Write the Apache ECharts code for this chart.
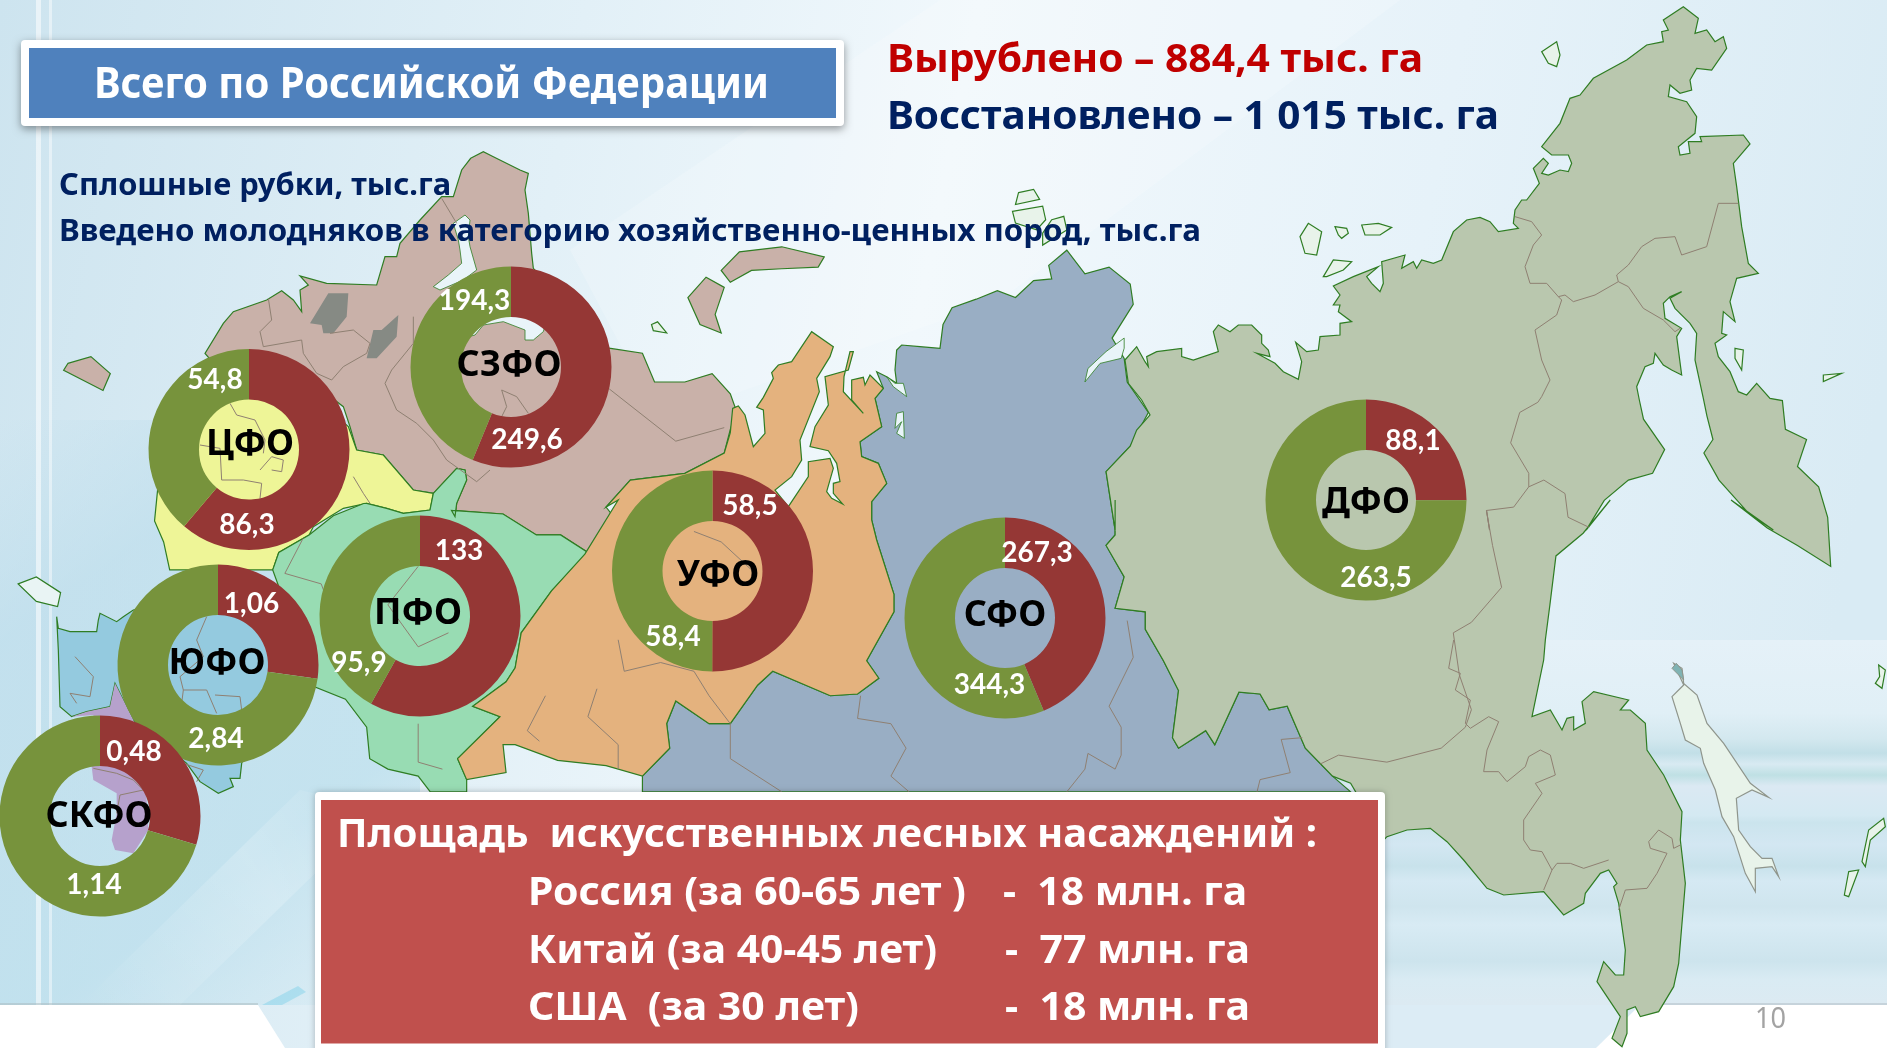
<!DOCTYPE html>
<html>
<head>
<meta charset="utf-8">
<title>Всего по Российской Федерации</title>
<script src="https://cdn.jsdelivr.net/npm/echarts@6/dist/echarts.min.js"></script>
<style>
  html, body { margin: 0; padding: 0; overflow: hidden; background: #fff; }
  #chart { width: 1887px; height: 1048px; }
</style>
</head>
<body>
<div id="chart"></div>
<script>
// данные с картинки
const regions = ['ЦФО', 'СЗФО', 'ПФО', 'ЮФО', 'СКФО', 'УФО', 'СФО', 'ДФО'];
const felled = [86.3, 249.6, 133, 1.06, 0.48, 58.5, 267.3, 88.1];
const restored = [54.8, 194.3, 95.9, 2.84, 1.14, 58.4, 344.3, 263.5];

// где стоят кольца, подписи значений и названия округов
const centers = [[249, 449.5], [511, 367], [420, 616], [218, 665], [100, 816], [712.5, 571], [1005, 618], [1366, 500]];
const felledLabelPos = [[247, 525], [527, 440], [459, 551], [251.5, 604], [134, 752], [750, 506], [1037, 553], [1413, 441]];
const restoredLabelPos = [[215, 380], [474.5, 301], [359, 663], [216, 739], [94, 885], [673, 637], [989.5, 685], [1376, 578]];
const namePos = [[250, 445], [509, 366], [418, 614], [217, 663.5], [99, 816.5], [718, 576], [1005, 615.5], [1366, 503]];

const RED = '#953735';
const GREEN = '#77933c';
const FONT = '"Noto Sans", sans-serif';

const tiles = {
  a: [0, 0, 1.65, 2.958],
  b: [0, 500, 1.65, 2.861],
  c: [940, 0, 1.656, 2.958],
  d: [940, 500, 1.656, 2.861],
  e: [720, 320, 3, 3],
  f: [1387, 640, 3, 3],
  g: [0, 600, 3, 3],
  h: [1480, 0, 3, 3],
  i: [1120, 180, 3, 3],
  j: [200, 140, 3, 3]
};
function t(name, flat) {
  const [ox, oy, sx, sy] = tiles[name];
  const out = [];
  for (let k = 0; k < flat.length; k += 2) out.push([ox + flat[k] / sx, oy + flat[k + 1] / sy]);
  return out;
}

const siberia = [
  ...t('e', [470, 155, 500, 170, 530, 190, 525, 150, 530, 90, 545, 75, 600, 80, 660, 85]),
  ...t('c', [5, 960, 20, 910, 60, 885, 95, 860, 125, 880, 155, 830, 185, 825, 180, 785, 210, 740, 240, 810, 280, 790, 315, 840, 320, 900, 285, 1000, 305, 1060, 310, 1130, 345, 1220, 315, 1320, 275, 1395, 290, 1568]),
  ...t('d', [290, 0, 290, 100, 275, 130, 305, 220, 290, 310, 340, 320, 340, 370, 370, 460, 395, 545, 385, 680, 395, 710, 440, 660, 455, 700, 495, 550, 530, 555, 545, 600, 575, 590, 605, 710, 650, 790, 680, 835]),
  ...t('b', [1568, 835, 1060, 835, 1060, 790, 1105, 710, 1100, 640, 1115, 575, 1170, 640, 1205, 640, 1250, 530, 1275, 490, 1370, 560, 1415, 555, 1450, 510, 1430, 460, 1475, 320, 1475, 270]),
  ...t('e', [470, 660, 455, 600, 455, 545, 500, 490, 475, 430, 425, 410, 420, 365, 485, 320, 465, 235, 490, 205])
];

const ural = [
  ...t('e', [38, 265, 55, 258, 75, 285, 100, 380, 135, 340, 130, 270, 110, 262, 130, 232, 160, 175, 155, 158, 175, 135, 215, 125, 275, 35, 340, 80, 330, 110, 290, 175, 298, 215, 240, 360, 245, 420, 215, 470, 165, 510, 205, 560, 265, 470, 265, 425, 330, 415, 340, 445, 320, 515, 335, 535, 368, 552, 340, 520, 340, 490, 360, 485, 350, 430, 325, 392, 270, 380, 285, 320, 325, 255, 315, 170, 385, 150, 400, 95, 390, 95, 372, 170, 370, 215, 430, 280, 395, 240, 395, 180, 430, 172, 435, 195, 450, 165, 490, 205, 465, 235, 485, 320, 420, 365, 425, 410, 475, 430, 500, 490, 455, 545, 455, 600, 470, 660]),
  ...t('b', [1475, 270, 1475, 320, 1430, 460, 1450, 510, 1415, 555, 1370, 560, 1275, 490, 1250, 530, 1205, 640, 1170, 640, 1115, 575, 1100, 640, 1105, 710, 1060, 790, 1000, 760, 920, 745, 850, 700, 830, 700, 835, 780, 770, 800, 755, 740, 825, 620, 780, 590, 835, 520, 850, 480, 860, 380, 910, 260, 965, 155, 1020, 0]),
  ...t('a', [1000, 1500, 1040, 1420, 1130, 1400, 1195, 1340, 1205, 1280])
];

const volga = [
  ...t('j', [700, 1060, 770, 985, 795, 990, 800, 1020, 770, 1090, 765, 1130]),
  ...t('b', [745, 30, 830, 40, 885, 100, 925, 100, 970, 150, 910, 260, 860, 380, 850, 480, 835, 520, 780, 590, 825, 620, 755, 740, 770, 800, 770, 835, 710, 835, 690, 790, 640, 770, 610, 740, 605, 650, 570, 570, 520, 535, 450, 200, 460, 150, 510, 100, 550, 45, 600, 10]),
  ...t('j', [500, 1090, 560, 1105, 610, 1120, 690, 1110])
];

const northWest = [
  ...t('j', [812, 55, 850, 35, 880, 50, 960, 90, 985, 100, 975, 150, 985, 220, 995, 340, 1000, 385]),
  ...t('a', [1005, 1030, 1060, 1045, 1080, 1130, 1130, 1130, 1175, 1105, 1205, 1165, 1215, 1215, 1205, 1270, 1195, 1340, 1130, 1400, 1040, 1420, 1000, 1500, 1030, 1568]),
  ...t('b', [985, 140, 970, 150, 925, 100, 885, 100, 830, 40, 750, 30]),
  ...t('j', [765, 1130, 770, 1090, 800, 1020, 795, 990, 770, 985, 700, 1060, 640, 1050, 550, 945, 470, 930, 450, 860, 430, 800, 300, 700, 50, 680, 15, 640, 70, 550, 100, 515, 200, 480, 245, 452, 280, 480, 305, 515, 300, 450, 325, 435, 300, 408, 380, 430, 530, 435, 555, 350, 590, 350, 600, 310, 660, 240, 725, 170, 760, 170, 785, 90])
];

const centerFo = [
  ...t('j', [330, 760, 445, 860, 470, 930, 550, 945, 640, 1050, 700, 1060, 690, 1110, 610, 1120, 560, 1105, 500, 1090, 430, 1105, 340, 1160]),
  ...t('b', [510, 100, 460, 150, 450, 200, 280, 200, 270, 120, 255, 60]),
  ...t('a', [260, 1450, 340, 1100])
];

const south = t('g', [170, 50, 175, 85, 210, 95, 290, 95, 295, 60, 300, 40, 350, 65, 370, 50, 400, 30, 520, 0, 800, 0, 810, 200, 800, 300, 725, 490, 720, 535, 690, 535, 700, 560, 655, 580, 600, 545, 560, 490, 400, 360, 345, 250, 330, 320, 260, 335, 215, 350, 180, 320, 175, 150]);
const crimea = t('b', [30, 240, 60, 220, 100, 265, 95, 305, 60, 290]);
const caucasus = t('g', [345, 250, 400, 360, 440, 600, 445, 690, 400, 760, 345, 750, 335, 720, 350, 640, 350, 580, 280, 540, 275, 500, 280, 345, 215, 350, 260, 335, 330, 320]);

const farEast = [
  ...t('i', [15, 540, 50, 500, 75, 545, 85, 560, 80, 530, 110, 515, 185, 505, 185, 530, 220, 540, 295, 515, 280, 455, 295, 435, 330, 455, 355, 435, 395, 435, 425, 465, 425, 490, 445, 510, 450, 530, 410, 520, 465, 550, 490, 575, 535, 598, 545, 545, 527, 487, 560, 515, 595, 510, 600, 470, 660, 465, 660, 430, 695, 425, 655, 395, 660, 375, 640, 375, 660, 345, 640, 318, 700, 290, 775, 260, 740, 290, 755, 310, 780, 335, 790, 310, 785, 245, 855, 225, 845, 265, 880, 245, 890, 265, 905, 240, 940, 250, 965, 240, 1000, 155, 1040, 120, 1080, 112, 1110, 125, 1135, 155]),
  ...t('h', [115, 685, 100, 670, 105, 630, 125, 600, 140, 600, 178, 550, 160, 505, 190, 475, 205, 490, 185, 520, 205, 525, 240, 510, 265, 515, 275, 490, 265, 465, 215, 465, 185, 440, 240, 370, 270, 295, 300, 285, 340, 235, 440, 180, 500, 135, 550, 125, 545, 95, 565, 90, 550, 60, 610, 20, 655, 55, 645, 100, 680, 90, 705, 125, 730, 110, 740, 145, 695, 210, 650, 205, 630, 240, 635, 270, 600, 280, 570, 255, 565, 290, 620, 305, 650, 350, 645, 400, 620, 420, 595, 440, 600, 465, 630, 460, 625, 425, 665, 425, 660, 410, 790, 405, 810, 432, 760, 490, 770, 560, 785, 680, 805, 790, 835, 820, 770, 835, 750, 905, 765, 965, 730, 935, 725, 1000, 740, 1005, 705, 1030, 715, 1070, 750, 1115, 775, 1175, 800, 1185, 830, 1150, 870, 1195]),
  ...t('c', [1395, 1185, 1400, 1270, 1435, 1300, 1420, 1380, 1455, 1440, 1470, 1530]),
  ...t('d', [1475, 190, 1420, 130, 1370, 80, 1310, 0]),
  ...t('c', [1380, 1568, 1340, 1520, 1290, 1420, 1265, 1340, 1280, 1300, 1270, 1230]),
  ...t('h', [670, 1195, 645, 1080, 650, 1000, 630, 970, 585, 925, 570, 895, 605, 875, 570, 890, 550, 910, 555, 955, 605, 985, 590, 1010, 605, 1125, 575, 1110, 550, 1095, 525, 1060, 520, 1090, 495, 1100, 470, 1160, 478, 1200]),
  ...t('c', [1165, 1240, 1200, 1330, 1180, 1400, 1140, 1420, 1100, 1480, 1070, 1568]),
  ...t('d', [1110, 0, 1065, 95, 1020, 160, 1010, 300]),
  ...t('f', [475, 0, 470, 60, 435, 230, 490, 210, 525, 270, 540, 235, 560, 230, 560, 270, 595, 250, 585, 185, 620, 155, 725, 180, 700, 210, 730, 210, 775, 250, 780, 330, 830, 405, 885, 515, 880, 600, 895, 730, 875, 970, 860, 1040, 815, 1115, 760, 1130, 745, 1100, 720, 1110, 720, 1180, 705, 1220, 675, 1195, 700, 1130, 630, 1025, 650, 965, 685, 1005, 710, 1005, 715, 930, 695, 790, 680, 740, 690, 730, 665, 690, 640, 700, 595, 760, 590, 790, 530, 825, 470, 755, 350, 765, 300, 745, 230, 660, 180, 605, 130, 565, 60, 570, 0, 590, -10, 600]),
  ...t('d', [680, 810, 650, 790, 605, 710, 575, 590, 545, 600, 530, 555, 495, 550, 455, 700, 440, 660, 395, 710, 385, 680, 395, 545, 370, 460, 340, 370, 340, 320, 290, 310, 305, 220, 275, 130, 290, 100, 290, 0]),
  ...t('c', [290, 1568, 275, 1395, 315, 1320]),
  ...t('i', [50, 750, 90, 705, 65, 660, 25, 610])
];

const lakes = [
  t('j', [385, 460, 445, 460, 440, 530, 400, 580, 370, 580, 365, 555, 330, 550]),
  t('j', [595, 525, 590, 590, 530, 655, 500, 655, 520, 570, 545, 570])
];
const whiteSeas = [
  t('j', [795, 225, 810, 240, 805, 290, 810, 320, 830, 390, 790, 420, 720, 450, 700, 440, 745, 405, 785, 370, 780, 330, 775, 300, 760, 250]),
  t('j', [780, 520, 930, 510, 1040, 540, 1030, 575, 1000, 600, 975, 600, 975, 570, 910, 545, 850, 555, 825, 585, 805, 590]),
  t('c', [305, 1000, 275, 1040, 245, 1090, 240, 1130, 265, 1075, 300, 1060, 305, 1030]),
  t('e', [500, 170, 525, 190, 550, 190, 560, 230, 520, 200]),
  t('e', [530, 280, 550, 275, 553, 355, 530, 340, 545, 305, 525, 325])
];
const brownIslands = [
  t('a', [1190, 800, 1220, 745, 1290, 730, 1360, 760, 1350, 790, 1290, 795, 1240, 800, 1205, 835]),
  t('a', [1165, 820, 1195, 850, 1180, 930, 1190, 985, 1155, 960, 1135, 880]),
  t('a', [112, 1075, 150, 1055, 182, 1105, 170, 1155, 105, 1095])
];
const paleIslands = [
  t('h', [185, 155, 230, 125, 240, 165, 230, 200, 205, 190]),
  t('h', [765, 1045, 790, 1050, 785, 1110, 765, 1075]),
  t('h', [1030, 1125, 1085, 1120, 1030, 1145]),
  t('i', [540, 170, 565, 130, 605, 155, 590, 225, 555, 220]),
  t('i', [645, 140, 680, 145, 685, 160, 665, 175, 655, 165]),
  t('i', [725, 135, 775, 130, 815, 142, 780, 165, 735, 165]),
  t('i', [610, 290, 640, 240, 695, 245, 670, 270, 620, 290]),
  t('c', [130, 570, 155, 560, 165, 590, 125, 605]),
  t('c', [120, 625, 170, 610, 175, 650, 160, 680, 125, 660]),
  t('c', [185, 650, 205, 640, 210, 680, 170, 725, 170, 690]),
  t('a', [1075, 960, 1085, 952, 1100, 985, 1078, 978]),
  t('f', [1475, 75, 1495, 90, 1485, 145, 1465, 130, 1478, 110]),
  t('f', [1490, 535, 1495, 560, 1450, 600, 1435, 680, 1425, 665, 1445, 570]),
  t('f', [1385, 695, 1415, 690, 1385, 770, 1372, 765])
];
const sakhalin = t('f', [860, 70, 885, 85, 890, 130, 930, 165, 960, 250, 1010, 310, 1090, 430, 1145, 472, 1095, 450, 1048, 475, 1055, 570, 1090, 620, 1125, 655, 1155, 655, 1175, 710, 1155, 680, 1105, 685, 1105, 755, 1075, 700, 1040, 590, 1005, 530, 985, 450, 950, 370, 940, 325, 895, 300, 880, 250, 855, 170, 890, 135]);
const sakhalinTip = t('f', [855, 85, 868, 70, 885, 90, 890, 120, 875, 105]);

// внутренние границы субъектов
const borders = [
  t('h', [105, 650, 155, 665, 185, 705, 160, 735, 135, 800, 150, 850, 200, 850, 235, 890, 255, 885, 280, 905, 345, 885, 415, 845, 410, 825, 445, 795, 485, 740, 525, 715, 585, 710, 605, 765, 680, 740, 715, 610, 775, 610]),
  [...t('h', [235, 890, 245, 900, 230, 945, 165, 990, 185, 1080, 210, 1140, 185, 1190]), ...t('c', [990, 1190, 960, 1220, 945, 1310, 975, 1400, 975, 1440, 1000, 1420, 1035, 1460, 1040, 1530, 1075, 1560])],
  t('h', [415, 845, 445, 860, 490, 925, 550, 960, 585, 995, 600, 985]),
  [...t('c', [975, 1440, 950, 1500, 905, 1510, 910, 1568]), ...t('d', [905, 30, 915, 130, 930, 250, 880, 350, 850, 380, 860, 500, 880, 600, 870, 650, 830, 710, 740, 750, 660, 730, 630, 755])],
  t('f', [200, 0, 185, 85, 220, 100, 205, 150, 250, 180, 235, 250, 250, 265, 305, 230, 335, 245, 300, 330, 290, 395, 335, 395, 360, 425, 415, 380, 425, 350, 460, 330, 490, 345, 505, 405, 445, 430, 465, 460, 410, 540, 410, 600, 430, 630, 465, 635, 495, 690, 470, 750]),
  t('f', [495, 690, 510, 670, 550, 670, 590, 685, 665, 660]),
  t('f', [695, 810, 715, 750, 780, 745, 810, 700, 840, 640, 790, 625, 785, 605, 815, 570, 855, 595, 860, 625, 880, 615]),
  t('d', [310, 345, 320, 450, 280, 590, 300, 650, 300, 730, 290, 770, 245, 725, 240, 770, 210, 835]),
  t('d', [600, 680, 565, 685, 580, 780, 530, 800, 525, 835]),
  t('b', [1420, 560, 1415, 625, 1470, 640, 1495, 710, 1470, 790, 1500, 835]),
  t('b', [1205, 640, 1205, 740, 1290, 835]),
  t('b', [1145, 490, 1170, 560, 1205, 640]),
  t('b', [985, 540, 970, 620, 1020, 700, 1020, 770]),
  t('b', [900, 560, 870, 660, 890, 690]),
  t('b', [1020, 400, 1030, 490, 1090, 465, 1145, 490]),
  t('b', [1145, 90, 1190, 120, 1240, 200]),
  t('b', [500, 110, 470, 210, 530, 240, 560, 380]),
  t('b', [690, 190, 640, 300, 690, 420, 740, 380]),
  t('b', [690, 640, 690, 750, 730, 770]),
  t('g', [620, 50, 590, 120, 610, 170, 540, 230, 550, 270, 620, 270, 650, 340]),
  t('g', [550, 270, 545, 310, 590, 340]),
  t('g', [645, 285, 720, 290, 725, 330]),
  t('g', [225, 170, 280, 230, 270, 290, 210, 280, 230, 310]),
  t('g', [280, 505, 350, 520, 400, 540, 430, 570, 360, 585, 350, 640]),
  t('g', [550, 490, 610, 510, 590, 545]),
  t('j', [725, 175, 770, 250]),
  t('j', [205, 475, 215, 540, 180, 575, 190, 620, 305, 600, 310, 640, 350, 700, 395, 720, 430, 680, 500, 640, 510, 610, 460, 570, 390, 580]),
  t('j', [640, 530, 640, 610, 575, 690, 555, 730, 590, 810, 650, 850, 700, 900, 740, 960, 830, 1025, 870, 990]),
  t('j', [905, 830, 920, 800, 905, 750, 950, 770, 985, 820]),
  t('j', [90, 790, 110, 825, 165, 840, 195, 900, 190, 940]),
  t('j', [0, 915, 60, 925, 65, 1020, 130, 1020, 185, 1030, 180, 1075]),
  t('j', [180, 990, 215, 950, 250, 960, 245, 995, 215, 990]),
  t('j', [460, 1010, 490, 1060, 510, 1090]),
  t('a', [1005, 1150, 1115, 1305, 1195, 1265])
];

const myChart = echarts.init(document.getElementById('chart'));

const ctx = document.createElement('canvas').getContext('2d');
// подгоняем ширину строки под оригинал: шрифт шире, чем Calibri в слайде
function textEl(text, x, baseline, width, size, fill, weight) {
  const font = (weight || 700) + ' ' + size + 'px ' + FONT;
  ctx.font = font;
  return {
    type: 'text', z: 10, x: x, y: baseline + 7,
    scaleX: width ? width / ctx.measureText(text).width : 1,
    style: { text: text, fill: fill, font: font, textAlign: 'left', textVerticalAlign: 'bottom' }
  };
}
function poly(points, fill, stroke, lw, z) {
  return { type: 'polygon', z: z || 1, silent: true, shape: { points: points }, style: { fill: fill, stroke: stroke || null, lineWidth: lw || 0 } };
}
function grad(x0, y0, x1, y1, stops) {
  return new echarts.graphic.LinearGradient(x0, y0, x1, y1, stops.map((s) => ({ offset: s[0], color: s[1] })));
}

const COAST = '#2f7d23';
const graphicEls = [
  // фон слайда
  { type: 'rect', z: 0, shape: { x: 0, y: 0, width: 1887, height: 1048 }, style: { fill: grad(0, 0, 1, 0.35, [[0, '#cde4ef'], [0.3, '#e2f0f7'], [0.5, '#f1f8fc'], [0.75, '#e6f2f9'], [1, '#d9ebf4']]) } },
  poly([[570, 250], [940, 0], [1400, 0], [1000, 300], [660, 420]], 'rgba(255,255,255,0.18)', null, 0, 0),
  { type: 'rect', z: 0, shape: { x: 0, y: 420, width: 420, height: 585 }, style: { fill: grad(0, 0, 1, 1, [[0, 'rgba(185,220,235,0)'], [0.25, 'rgba(185,220,235,0.6)'], [0.7, 'rgba(185,222,236,0.7)'], [1, 'rgba(185,222,236,0.0)']]) } },
  poly([[80, 1005], [180, 1005], [380, 810], [300, 790]], grad(0, 1, 1, 0, [[0, 'rgba(255,255,255,0)'], [0.6, 'rgba(255,255,255,0.2)'], [1, 'rgba(255,255,255,0)']]), null, 0, 0),
  poly([[262, 1005], [282, 1005], [306, 992], [298, 986]], 'rgba(80,195,230,0.3)', null, 0, 0),
  { type: 'rect', z: 0, shape: { x: 1000, y: 640, width: 887, height: 365 }, style: { fill: grad(0, 0, 0, 1, [[0, '#e5f1f8'], [0.2, '#e0eff6'], [0.27, '#d3e8ef'], [0.31, '#c2dfe7'], [0.34, '#d8eaf2'], [0.37, '#bfe0e4'], [0.4, '#dbe9f3'], [0.48, '#d4e9f2'], [0.5, '#cbe4ed'], [0.56, '#d3e7f2'], [0.62, '#c8e2eb'], [0.66, '#d5e9f3'], [0.73, '#cfe5ee'], [0.78, '#d8ebf4'], [0.88, '#cde4ed'], [0.93, '#d9ebf3'], [1, '#dceaf2']]) } },
  { type: 'rect', z: 0, shape: { x: 36, y: 0, width: 5, height: 1005 }, style: { fill: 'rgba(255,255,255,0.55)' } },
  { type: 'rect', z: 0, shape: { x: 49, y: 0, width: 3, height: 1005 }, style: { fill: 'rgba(255,255,255,0.45)' } },
  // белая полоса снизу
  { type: 'rect', z: 0, shape: { x: 0, y: 1003, width: 258, height: 2 }, style: { fill: 'rgba(170,185,190,0.5)' } },
  poly([[0, 1005], [258, 1005], [285, 1048], [0, 1048]], '#ffffff', null, 0, 0),
  poly([[1385, 1005], [1640, 1005], [1596, 1048], [1385, 1048]], '#dcecf5', null, 0, 0),
  { type: 'rect', z: 0, shape: { x: 1385, y: 1018, width: 235, height: 3 }, style: { fill: 'rgba(255,255,255,0.8)' } },
  { type: 'rect', z: 0, shape: { x: 1385, y: 1031, width: 220, height: 2 }, style: { fill: 'rgba(255,255,255,0.8)' } },
  poly([[1640, 1005], [1887, 1005], [1887, 1048], [1596, 1048]], '#ffffff', null, 0, 0),
  { type: 'rect', z: 0, shape: { x: 1640, y: 1003, width: 247, height: 2 }, style: { fill: 'rgba(170,185,190,0.45)' } },

  // карта
  poly(siberia, '#99aec4', COAST, 1.2),
  poly(farEast, '#b9c7ae', COAST, 1.2),
  poly(northWest, '#c9b1a9', COAST, 1.2),
  poly(centerFo, '#eef597', COAST, 1.2),
  poly(south, '#94cadf', COAST, 1.2),
  poly(crimea, '#e9f4f4', COAST, 1.2),
  poly(caucasus, '#b6a1cc', null, 0),
  poly(volga, '#98dcb3', COAST, 1.2),
  poly(ural, '#e4b27e', COAST, 1.2),
  ...lakes.map((p) => poly(p, '#868a84', null, 0)),
  ...whiteSeas.map((p) => poly(p, '#e9f4f9', COAST, 0.8)),
  ...brownIslands.map((p) => poly(p, '#c9b1a9', COAST, 1.2)),
  ...paleIslands.map((p) => poly(p, '#e8f3ea', COAST, 1.2)),
  poly(sakhalin, '#e8f3ea', '#8f958c', 1.2),
  poly(sakhalinTip, '#7fb3b3', '#8f958c', 1),
  ...borders.map((p) => ({ type: 'polyline', z: 1, silent: true, shape: { points: p }, style: { stroke: '#8f8072', lineWidth: 1, fill: null } })),

  // синяя плашка
  { type: 'rect', z: 9, shape: { x: 21, y: 40, width: 823, height: 86, r: 4 }, style: { fill: '#fff', shadowBlur: 8, shadowColor: 'rgba(0,0,0,0.4)', shadowOffsetY: 3 } },
  { type: 'rect', z: 9, shape: { x: 29, y: 48, width: 807, height: 70 }, style: { fill: '#4f81bd' } },
  textEl('Всего по Российской Федерации', 94, 100, 675, 43, '#ffffff'),

  textEl('Вырублено – 884,4 тыс. га', 887, 74, 536, 40, '#c00000'),
  textEl('Восстановлено – 1 015 тыс. га', 887, 131, 612, 40, '#002060'),
  textEl('Сплошные рубки, тыс.га', 59, 195, 392, 31, '#002060'),
  textEl('Введено молодняков в категорию хозяйственно-ценных пород, тыс.га', 59, 241, 1142, 31, '#002060'),

  // красная плашка
  { type: 'rect', z: 9, shape: { x: 315, y: 792, width: 1070, height: 270, r: 4 }, style: { fill: '#fff', shadowBlur: 6, shadowColor: 'rgba(0,0,0,0.25)' } },
  { type: 'rect', z: 9, shape: { x: 321, y: 800, width: 1057, height: 243.5 }, style: { fill: '#c0504d' } },
  textEl('Площадь  искусственных лесных насаждений :', 337, 849, 980, 40, '#ffffff'),
  textEl('Россия (за 60-65 лет )', 528, 907, 438, 40, '#ffffff'),
  textEl('Китай (за 40-45 лет)', 528, 965, 409, 40, '#ffffff'),
  textEl('США  (за 30 лет)', 528, 1022, 331, 40, '#ffffff'),
  textEl('-  18 млн. га', 1003, 907, 244, 40, '#ffffff'),
  textEl('-  77 млн. га', 1005, 965, 245, 40, '#ffffff'),
  textEl('-  18 млн. га', 1005, 1022, 245, 40, '#ffffff'),
  textEl('10', 1755, 1027, 31, 29, '#a3a3a3', 400),

  // названия округов в центре колец
  ...regions.map((name, i) => ({
    type: 'text', z: 10, x: namePos[i][0], y: namePos[i][1],
    style: { text: name, fill: '#000', font: '700 36px ' + FONT, textAlign: 'center', textVerticalAlign: 'middle' }
  }))
];

const option = {
  animation: false,
  graphic: { elements: graphicEls },
  series: regions.map((name, i) => ({
    type: 'pie',
    name: name,
    center: centers[i],
    radius: [50, 100.5],
    startAngle: 90,
    clockwise: true,
    silent: true,
    avoidLabelOverlap: false,
    itemStyle: { borderWidth: 0 },
    label: {
      show: true,
      position: 'inside',
      color: '#fff',
      fontFamily: 'Lato, "Noto Sans", sans-serif',
      fontWeight: 700,
      fontSize: 28,
      formatter: (p) => String(p.value).replace('.', ',')
    },
    labelLine: { show: false },
    labelLayout: (p) => {
      const pos = p.dataIndex === 0 ? felledLabelPos[i] : restoredLabelPos[i];
      return { x: pos[0], y: pos[1], align: 'center', verticalAlign: 'middle' };
    },
    data: [
      { name: 'Вырублено', value: felled[i], itemStyle: { color: RED } },
      { name: 'Восстановлено', value: restored[i], itemStyle: { color: GREEN } }
    ]
  }))
};
myChart.setOption(option);
</script>
</body>
</html>
